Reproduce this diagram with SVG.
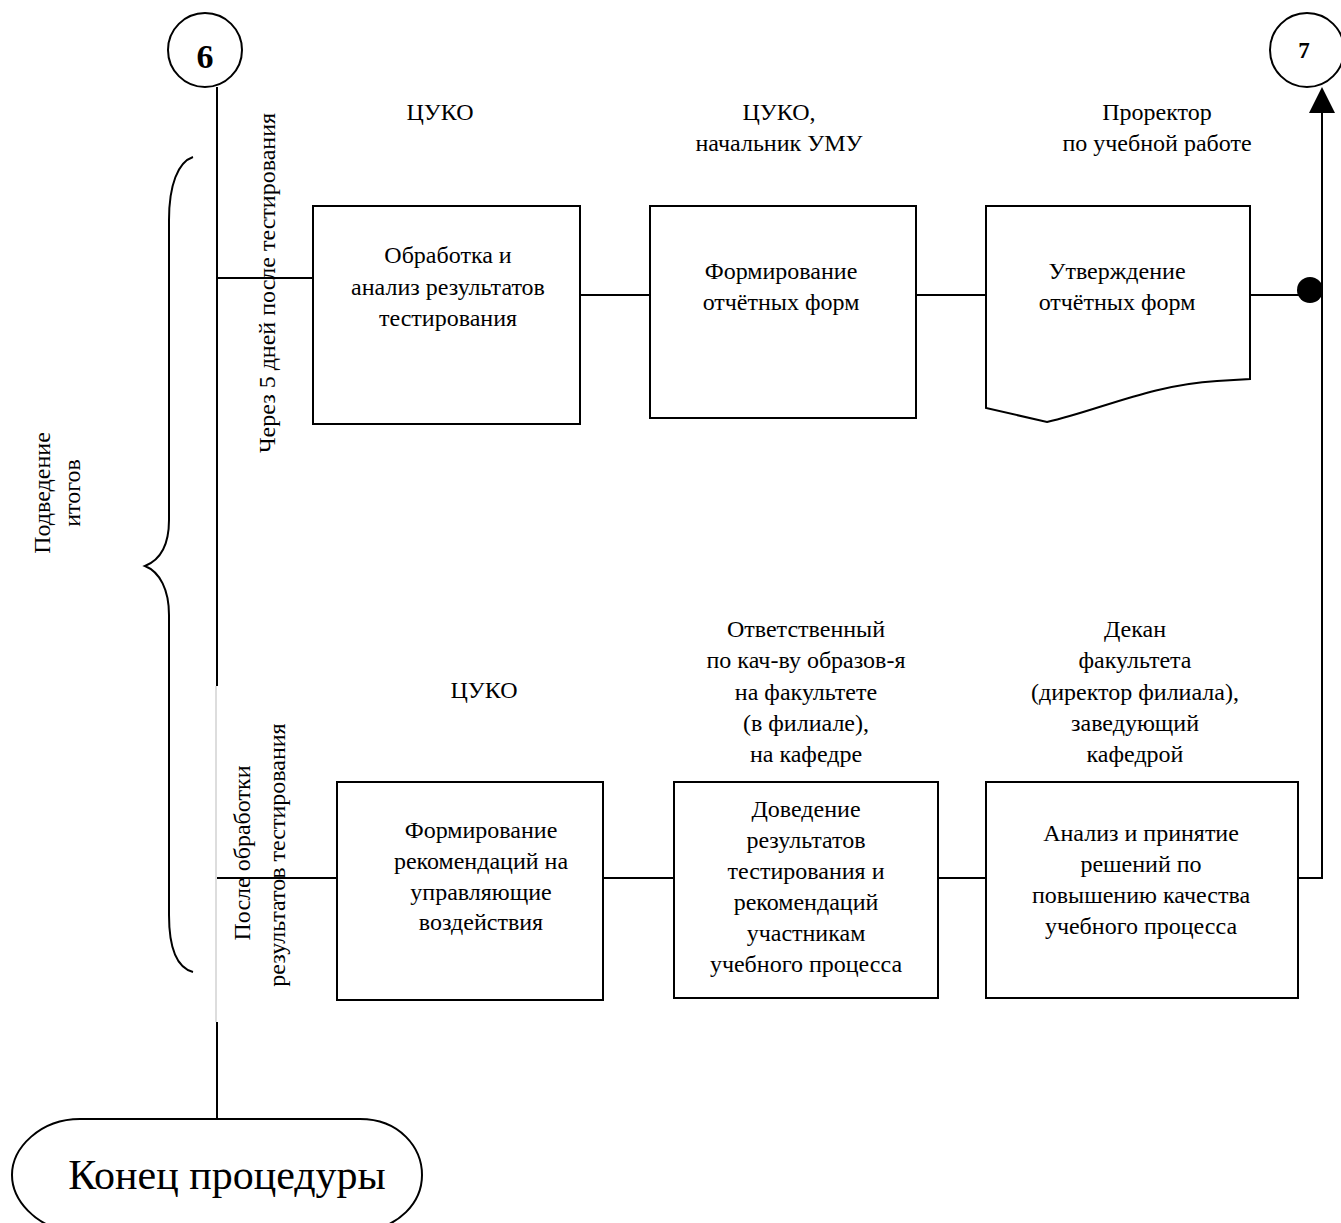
<svg xmlns="http://www.w3.org/2000/svg" width="1341" height="1223" viewBox="0 0 1341 1223">
<style>
text{font-family:"Liberation Serif","Times New Roman",serif;fill:#000}
.t{font-size:24px;text-anchor:middle}
.box{fill:#fff;stroke:#000;stroke-width:2}
.ln{fill:none;stroke:#000;stroke-width:2}
</style>
<g id="connectors">
<line class="ln" x1="217" y1="87" x2="217" y2="686"/>
<line x1="216" y1="686" x2="216" y2="1022" stroke="#bbb" stroke-width="1"/>
<line class="ln" x1="217" y1="1022" x2="217" y2="1119"/>
<line class="ln" x1="217" y1="278" x2="313" y2="278"/>
<line class="ln" x1="580" y1="295" x2="650" y2="295"/>
<line class="ln" x1="916" y1="295" x2="987" y2="295"/>
<line class="ln" x1="1250" y1="295" x2="1322" y2="295"/>
<circle cx="1310" cy="290" r="13" fill="#000"/>
<line class="ln" x1="217" y1="878" x2="337" y2="878"/>
<line class="ln" x1="603" y1="878" x2="674" y2="878"/>
<line class="ln" x1="938" y1="878" x2="986" y2="878"/>
<polyline class="ln" points="1298,878 1322,878 1322,113"/>
<path d="M1309,113 L1322,87 L1335,113 Z" fill="#000"/>
</g>
<g id="node6">
<circle cx="205" cy="50" r="37" class="box"/>
<text x="205" y="68" font-size="34" font-weight="bold" text-anchor="middle">6</text>
</g>
<g id="node7">
<circle cx="1307" cy="50" r="37" class="box"/>
<text x="1304" y="58" font-size="23" font-weight="bold" text-anchor="middle">7</text>
</g>
<g id="brace">
<path class="ln" d="M193,157 C178,162 169,185 169,220 L169,520 C169,545 160,560 145,566 C160,572 169,590 169,615 L169,915 C169,950 178,968 193,972"/>
</g>
<g id="label-itogi">
<text class="t" transform="translate(50,493) rotate(-90)">Подведение</text>
<text class="t" transform="translate(80,493) rotate(-90)">итогов</text>
</g>
<g id="label-5days">
<text class="t" transform="translate(275,283) rotate(-90)">Через 5 дней после тестирования</text>
</g>
<g id="label-after">
<text class="t" transform="translate(250,853) rotate(-90)">После обработки</text>
<text class="t" transform="translate(285,855) rotate(-90)">результатов тестирования</text>
</g>
<g id="role1"><text class="t" x="440" y="120">ЦУКО</text></g>
<g id="role2"><text class="t" x="779" y="120">ЦУКО,</text><text class="t" x="779" y="151">начальник УМУ</text></g>
<g id="role3"><text class="t" x="1157" y="120">Проректор</text><text class="t" x="1157" y="151">по учебной работе</text></g>
<g id="box1">
<rect class="box" x="313" y="206" width="267" height="218"/>
<text class="t" x="448" y="263">Обработка и</text>
<text class="t" x="448" y="295">анализ результатов</text>
<text class="t" x="448" y="326">тестирования</text>
</g>
<g id="box2">
<rect class="box" x="650" y="206" width="266" height="212"/>
<text class="t" x="781" y="279">Формирование</text>
<text class="t" x="781" y="310">отчётных форм</text>
</g>
<g id="box3">
<path class="box" d="M986,206 L1250,206 L1250,379 L1217,381 C1150,385 1100,410 1047,422 L986,408 Z"/>
<text class="t" x="1117" y="279">Утверждение</text>
<text class="t" x="1117" y="310">отчётных форм</text>
</g>
<g id="role4"><text class="t" x="484" y="698">ЦУКО</text></g>
<g id="role5">
<text class="t" x="806" y="637">Ответственный</text>
<text class="t" x="806" y="668">по кач-ву образов-я</text>
<text class="t" x="806" y="700">на факультете</text>
<text class="t" x="806" y="731">(в филиале),</text>
<text class="t" x="806" y="762">на кафедре</text>
</g>
<g id="role6">
<text class="t" x="1135" y="637">Декан</text>
<text class="t" x="1135" y="668">факультета</text>
<text class="t" x="1135" y="700">(директор филиала),</text>
<text class="t" x="1135" y="731">заведующий</text>
<text class="t" x="1135" y="762">кафедрой</text>
</g>
<g id="box4">
<rect class="box" x="337" y="782" width="266" height="218"/>
<text class="t" x="481" y="838">Формирование</text>
<text class="t" x="481" y="869">рекомендаций на</text>
<text class="t" x="481" y="900">управляющие</text>
<text class="t" x="481" y="930">воздействия</text>
</g>
<g id="box5">
<rect class="box" x="674" y="782" width="264" height="216"/>
<text class="t" x="806" y="817">Доведение</text>
<text class="t" x="806" y="848">результатов</text>
<text class="t" x="806" y="879">тестирования и</text>
<text class="t" x="806" y="910">рекомендаций</text>
<text class="t" x="806" y="941">участникам</text>
<text class="t" x="806" y="972">учебного процесса</text>
</g>
<g id="box6">
<rect class="box" x="986" y="782" width="312" height="216"/>
<text class="t" x="1141" y="841">Анализ и принятие</text>
<text class="t" x="1141" y="872">решений по</text>
<text class="t" x="1141" y="903">повышению качества</text>
<text class="t" x="1141" y="934">учебного процесса</text>
</g>
<g id="end">
<path class="box" d="M80,1119 L360,1119 C400,1119 422,1148 422,1175 C422,1202 400,1228 360,1232 L70,1232 C35,1226 12,1200 12,1175 C12,1148 40,1119 80,1119 Z"/>
<text x="227" y="1189" font-size="42" text-anchor="middle">Конец процедуры</text>
</g>
</svg>
